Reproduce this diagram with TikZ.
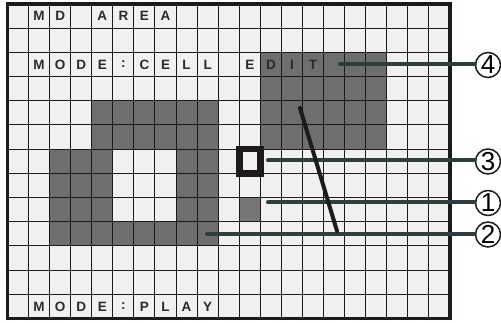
\documentclass[tikz,border=0pt]{standalone}
\usepackage{fontspec}
\setmainfont{Liberation Sans}
\definecolor{cellbg}{HTML}{EFF0EF}
\definecolor{darkcell}{HTML}{6E6E6E}
\definecolor{markcell}{HTML}{777777}
\definecolor{conncol}{HTML}{2F3D3D}
\definecolor{inkcol}{HTML}{1E1A1A}
\definecolor{txtcol}{HTML}{2A2A2A}
\def\ox{7.5}
\def\oy{4}
\def\cw{21.07}
\def\rh{24.19}
\begin{document}
\begin{tikzpicture}[x=1pt,y=-1pt,
  gridline/.style={draw=inkcol,line width=1pt},
  frame/.style={draw=inkcol,line width=3.2pt},
  lbl/.style={inner sep=0pt,text=txtcol,font=\fontsize{13.5}{16}\selectfont\bfseries},
  num/.style={circle,draw=inkcol,line width=1.5pt,minimum size=25pt,inner sep=0pt,fill=white,font=\fontsize{26}{28}\selectfont},
  conn/.style={draw=conncol,line width=4pt,line cap=round},
  diag/.style={draw=inkcol,line width=4pt,line cap=round},
  cursorbox/.style={draw=inkcol,line width=6.5pt}]
\useasboundingbox (0,0) rectangle (501,323);
% cell background
\fill[cellbg] (\ox,\oy) rectangle ({\ox+21*\cw},{\oy+13*\rh});
% dark cells
\fill[darkcell] ({\ox+4*\cw},{\oy+4*\rh}) rectangle ({\ox+10*\cw},{\oy+6*\rh});
\fill[darkcell] ({\ox+2*\cw},{\oy+6*\rh}) rectangle ({\ox+5*\cw},{\oy+9*\rh});
\fill[darkcell] ({\ox+8*\cw},{\oy+6*\rh}) rectangle ({\ox+10*\cw},{\oy+9*\rh});
\fill[darkcell] ({\ox+2*\cw},{\oy+9*\rh}) rectangle ({\ox+10*\cw},{\oy+10*\rh});
\fill[darkcell] ({\ox+12*\cw},{\oy+2*\rh}) rectangle ({\ox+18*\cw},{\oy+6*\rh});
\fill[markcell] ({\ox+11*\cw},{\oy+8*\rh}) rectangle ({\ox+12*\cw},{\oy+9*\rh});
% grid
\foreach \i in {1,...,20}
  \draw[gridline] ({\ox+\i*\cw},\oy) -- ({\ox+\i*\cw},{\oy+13*\rh});
\foreach \j in {1,...,12}
  \draw[gridline] (\ox,{\oy+\j*\rh}) -- ({\ox+21*\cw},{\oy+\j*\rh});
\draw[frame] (\ox,\oy) rectangle ({\ox+21*\cw},{\oy+13*\rh});
% texts
\foreach \c/\t in {1/M,2/D,4/A,5/R,6/E,7/A}
  \node[lbl] (ra\c) at ({\ox+(\c+0.5)*\cw},{\oy+0.5*\rh}) {\t};
\foreach \c/\t in {1/M,2/O,3/D,4/E,5/:,6/C,7/E,8/L,9/L,11/E,12/D,13/I,14/T}
  \node[lbl] (rb\c) at ({\ox+(\c+0.5)*\cw},{\oy+2.5*\rh}) {\t};
\foreach \c/\t in {1/M,2/O,3/D,4/E,5/:,6/P,7/L,8/A,9/Y}
  \node[lbl] (rc\c) at ({\ox+(\c+0.5)*\cw},{\oy+12.5*\rh}) {\t};
% cursor
\draw[cursorbox] ({\ox+11*\cw},{\oy+6*\rh}) rectangle ({\ox+12*\cw},{\oy+7*\rh});
% callouts
\node[num] (n4) at (488,65) {4};
\node[num] (n3) at (488,161.5) {3};
\node[num] (n1) at (488,203) {1};
\node[num] (n2) at (488,234.5) {2};
\coordinate (s4) at (340,64);
\coordinate (s3) at (268,160.5);
\coordinate (s1) at (268,202.5);
\coordinate (s2) at (207,234);
\draw[conn] (s4) -- (s4 -| n4.west);
\draw[conn] (s3) -- (s3 -| n3.west);
\draw[conn] (s1) -- (s1 -| n1.west);
\draw[conn] (s2) -- (s2 -| n2.west);
\coordinate (d1) at (300,108);
\coordinate (d2) at (337,231);
\draw[diag] (d1) -- (d2);
\end{tikzpicture}
\end{document}
